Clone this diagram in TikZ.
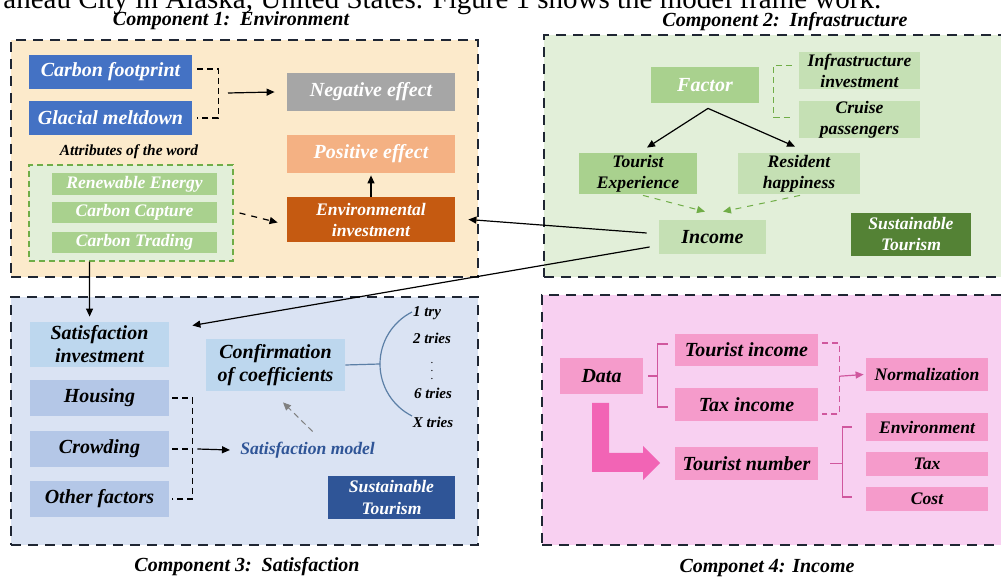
\documentclass[tikz,border=0pt]{standalone}
\usepackage{fontspec}
\setmainfont{Liberation Serif}
\usetikzlibrary{arrows.meta,calc,fit}
\definecolor{ybg}{HTML}{FCEACB}
\definecolor{gbg}{HTML}{E2EFD9}
\definecolor{bbg}{HTML}{DAE3F3}
\definecolor{pbg}{HTML}{F8D0F1}
\definecolor{framec}{HTML}{1F2633}
\definecolor{cblue}{HTML}{4472C4}
\definecolor{cgray}{HTML}{A6A6A6}
\definecolor{cpos}{HTML}{F4B183}
\definecolor{corange}{HTML}{C55A11}
\definecolor{glight}{HTML}{C5E0B4}
\definecolor{gmid}{HTML}{A9D18E}
\definecolor{gdark}{HTML}{548235}
\definecolor{gline}{HTML}{70AD47}
\definecolor{blight}{HTML}{BDD7EE}
\definecolor{bmid}{HTML}{B4C7E7}
\definecolor{bdark}{HTML}{2F5597}
\definecolor{arcc}{HTML}{5B7FA6}
\definecolor{pbox}{HTML}{F59BCB}
\definecolor{parrow}{HTML}{F264B5}
\definecolor{pline}{HTML}{D0579E}
% \bxn{name}{style}{x1}{y1}{x2}{y2}{text}
\newcommand\bxn[7]{\node[bx,#2,minimum width={(#5-#3)*0.5pt},minimum height={(#6-#4)*0.5pt}] (#1) at ({(#3+#5)/2},{(#4+#6)/2}) {#7};}
\begin{document}
\begin{tikzpicture}[x=0.5pt,y=-0.5pt,
  frame/.style={draw=framec,line width=1.3pt,dash pattern=on 5pt off 3.5pt,inner sep=0pt},
  bx/.style={inner sep=0pt,align=center},
  big/.style={font=\fontsize{10}{11.5}\selectfont\bfseries\itshape},
  sml/.style={font=\fontsize{8.8}{10.5}\selectfont\bfseries\itshape},
  tiny/.style={font=\fontsize{7.5}{9}\selectfont\bfseries\itshape,inner sep=0pt},
  title/.style={font=\fontsize{10}{12}\selectfont\bfseries\itshape,inner sep=0pt},
  arr/.style={-{Triangle[length=4pt,width=3.5pt]},line width=0.6pt},
  brk/.style={line width=0.8pt,dash pattern=on 3pt off 2pt}
]
\useasboundingbox (0,0) rectangle (1001,581);
\fill[white] (0,0) rectangle (1001,581);

% top cut text
\node[anchor=base west,inner sep=0pt,font=\fontsize{14.5}{15}\selectfont] (toptext) at (3,9) {aneau City in Alaska, United States. Figure 1 shows the model frame work.};

% frames
\node[frame,fill=ybg,fit={(11,40)(478,277)}] (f1) {};
\node[frame,fill=gbg,fit={(544,35)(1012,277)}] (f2) {};
\node[frame,fill=bbg,fit={(11,297)(478,545)}] (f3) {};
\node[frame,fill=pbg,fit={(542,295)(1012,545)}] (f4) {};

% titles
\node[title] (t1) at (231,21) {Component 1:\ \ Environment};
\node[title] (t2) at (785,22) {Component 2:\ \ Infrastructure};
\node[title] (t3) at (247,567) {Component 3:\ \ Satisfaction};
\node[title] (t4) at (767,568) {Componet 4: Income};

% ---------- Component 1
\bxn{cf}{big,fill=cblue,text=white}{29}{55}{192}{89}{Carbon footprint}
\bxn{gm}{big,fill=cblue,text=white}{29}{101}{192}{135}{Glacial meltdown}
\bxn{ne}{big,fill=cgray,text=white}{287}{73}{455}{111}{Negative effect}
\bxn{pe}{big,fill=cpos,text=white}{287}{135}{455}{173}{Positive effect}
\bxn{ei}{sml,fill=corange,text=white}{287}{197}{455}{242}{Environmental\\investment}
\node[inner sep=0pt,font=\fontsize{7.7}{9}\selectfont\bfseries\itshape] (attr) at (129,152) {Attributes of the word};
\node[inner sep=0pt,draw=gline,dash pattern=on 3pt off 2pt,line width=0.6pt,fill=gbg,fit={(29,165)(233,261)}] (gbox) {};
\bxn{re}{sml,fill=gmid,text=white}{52}{173}{217}{195}{Renewable Energy}
\bxn{cc1}{sml,fill=gmid,text=white}{52}{202}{217}{223}{Carbon Capture}
\bxn{ct}{sml,fill=gmid,text=white}{52}{232}{217}{253}{Carbon Trading}

\draw[brk] ($(cf.east)+(5,-3)$) -- ++(21,0) |- ($(gm.east)+(5,0)$);
\coordinate (b1) at (228,93);
\draw[arr] (b1) -- ($(ne.west)+(-12,0)$);
\draw[arr] (ei.north) -- ($(pe.south)+(0,2)$);
\draw[arr,dashed] ($(gbox.east)+(6,0)$) -- ($(ei.west)+(-9,3)$);

% ---------- Component 2
\bxn{fa}{big,fill=gmid,text=white}{651}{67}{759}{103}{Factor}
\bxn{ii}{sml,fill=glight}{799}{52}{920}{89}{Infrastructure\\investment}
\bxn{cp}{sml,fill=glight}{799}{102}{920}{137}{Cruise\\passengers}
\bxn{te}{sml,fill=gmid}{579}{153}{697}{194}{Tourist\\Experience}
\bxn{rh}{sml,fill=glight}{738}{153}{860}{194}{Resident\\happiness}
\bxn{inc}{big,fill=glight}{659}{220}{766}{254}{Income}
\bxn{st2}{sml,fill=gdark,text=white}{851}{213}{971}{256}{Sustainable\\Tourism}

\draw[brk,draw=gline] ($(ii.west)+(-7,-5)$) -- ++(-18,0) |- ($(cp.west)+(-7,-2)$);
\draw[arr] ($(fa.south)+(3,5)$) -- ($(te.north)+(9,-5)$);
\draw[arr] ($(fa.south)+(3,5)$) -- ($(rh.north)+(-4,-6)$);
\draw[arr,draw=gline,dashed,line width=0.5pt] ($(te.south)+(5,1)$) -- ($(inc.north)+(-7.5,-8)$);
\draw[arr,draw=gline,dashed,line width=0.5pt] ($(rh.south)+(1,1)$) -- ($(inc.north)+(10.5,-8)$);

% ---------- Component 3
\bxn{si}{big,fill=blight}{30}{322}{169}{367}{Satisfaction\\investment}
\bxn{ho}{big,fill=bmid}{30}{380}{169}{416}{Housing}
\bxn{cr}{big,fill=bmid}{30}{431}{169}{467}{Crowding}
\bxn{of}{big,fill=bmid}{30}{481}{169}{517}{Other factors}
\bxn{co}{big,fill=blight}{206}{339}{345}{391}{Confirmation\\of coefficients}
\node[inner sep=0pt,anchor=west,sml,text=bdark] (sm) at (240,450) {Satisfaction model};
\bxn{st3}{sml,fill=bdark,text=white}{328}{476}{455}{519}{Sustainable\\Tourism}

\draw[brk] ($(ho.east)+(3,0)$) -- ++(20,0) |- ($(of.east)+(3,0)$);
\draw[brk] ($(cr.east)+(3,0)$) -- ++(20,0);
\draw[arr] ($(cr.east)+(28,0)$) -- ($(sm.west)+(-10,0)$);
\draw[arr,draw=gray,densely dashed,line width=0.5pt] ($(sm.north)+(5,-10)$) -- ($(co.south)+(7.5,11)$);

\coordinate (arcL) at (380,364);
\draw[draw=arcc,line width=0.6pt] (co.east) -- (arcL);
\draw[draw=arcc,line width=0.6pt] (arcL) arc[start angle=180,end angle=116.8,radius=29.125pt];
\draw[draw=arcc,line width=0.6pt] (arcL) arc[start angle=180,end angle=243.2,radius=29.125pt];
\node[tiny] (tr1) at (427,313) {1 try};
\node[tiny] (tr2) at (432,338) {2 tries};
\node[tiny,font=\fontsize{5.5}{6}\selectfont] (trd) at (432,365) {$\vdots$};
\node[tiny] (tr6) at (433,393) {6 tries};
\node[tiny] (trx) at (433,422) {X tries};

% cross-component connectors
\draw[arr] ($(inc.west)+(-12,-4)$) -- ($(ei.east)+(13,0)$);
\draw[arr] ($(inc.west)+(-9,10)$) -- ($(si.east)+(23,-19)$);
\draw[arr] ($(gbox.south west)+(61,0)$) -- ($(si.north west)+(60,-5)$);

% ---------- Component 4
\bxn{da}{big,fill=pbox}{560}{358}{643}{394}{Data}
\bxn{ti}{big,fill=pbox}{675}{334}{818}{366}{Tourist income}
\bxn{tx}{big,fill=pbox}{675}{388}{818}{421}{Tax income}
\bxn{tn}{big,fill=pbox}{675}{447}{818}{480}{Tourist number}
\bxn{nm}{sml,fill=pbox}{866}{358}{988}{391}{Normalization}
\bxn{en}{sml,fill=pbox}{866}{413}{988}{441}{Environment}
\bxn{tax}{sml,fill=pbox}{866}{452}{988}{476}{Tax}
\bxn{cost}{sml,fill=pbox}{866}{487}{988}{511}{Cost}

\draw[pline,line width=0.6pt] ($(da.east)+(5,0)$) -- ++(10,0);
\draw[pline,line width=0.6pt] ($(ti.west)+(-7,-6)$) -- ++(-10,0) |- ($(tx.west)+(-7,2.5)$);
\draw[pline,brk,line width=0.6pt] ($(ti.east)+(4,-7)$) -- ++(17,0) |- ($(tx.east)+(4,9.5)$);
\draw[arr,pline] ($(ti.east)!0.5!(tx.east)+(21,-1)$) -- ($(nm.west)+(-2,0)$);
\draw[pline,line width=0.6pt] ($(tn.east)+(12,0)$) -- ++(13,0);
\draw[pline,line width=0.6pt] ($(en.west)+(-14,0)$) -- ++(-9,0) |- ($(cost.west)+(-14,-2)$);
\fill[parrow] (592,403) -- (609,403) -- (609,453) -- (643,453) -- (643,446) -- (660,463) -- (643,480) -- (643,472) -- (592,472) -- cycle;
\end{tikzpicture}
\end{document}
